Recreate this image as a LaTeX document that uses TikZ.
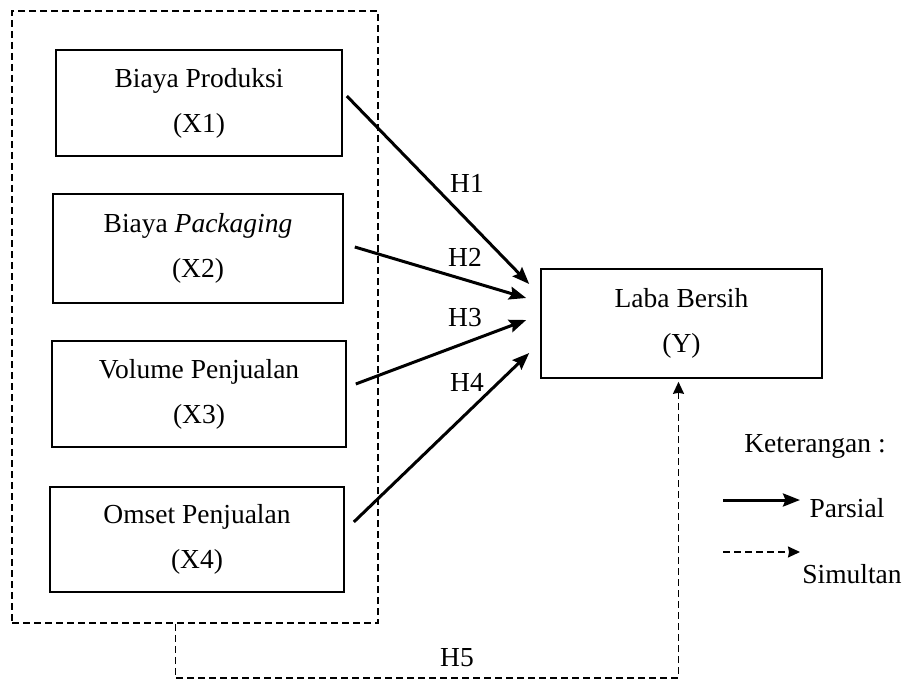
\documentclass[tikz,border=0pt]{standalone}
\usepackage{fontspec}
\setmainfont{Liberation Serif}
\usetikzlibrary{arrows.meta,calc}
\begin{document}
\begin{tikzpicture}[x=1pt,y=-1pt,
  txt/.style={font=\fontsize{27.5}{45}\selectfont},
  varbox/.style={draw, line width=1.6pt, align=center, inner sep=0pt, txt},
  grpbox/.style={draw, line width=1.5pt, dash pattern=on 7pt off 4pt, inner sep=0pt},
  partial/.style={line width=3pt, -{Stealth[length=17pt,width=13pt,inset=2.5pt]}},
  simul/.style={line width=1.5pt, dash pattern=on 7pt off 4pt, -{Stealth[length=12pt,width=11pt,inset=1pt]}},
  lab/.style={txt, inner sep=0pt}]
\useasboundingbox (0,0) rectangle (907,682);
\node[grpbox, minimum width=366pt, minimum height=612pt] (grp) at (195,317) {};
\node[varbox, minimum width=286pt, minimum height=106pt] (x1) at (199,103) {Biaya Produksi\\(X1)};
\node[varbox, minimum width=290pt, minimum height=109pt] (x2) at (198,248.5) {Biaya \textit{Packaging}\\(X2)};
\node[varbox, minimum width=294pt, minimum height=106pt] (x3) at (199,394) {Volume Penjualan\\(X3)};
\node[varbox, minimum width=294pt, minimum height=105pt] (x4) at (197,539.5) {Omset Penjualan\\(X4)};
\node[varbox, minimum width=281pt, minimum height=109pt] (y) at (681.5,323.5) {Laba Bersih\\(Y)};
\draw[partial] ($(x1.east)+(4,-7)$) -- ($(y.west)+(-11,-39.5)$);
\draw[partial] ($(x2.east)+(11,-1.5)$) -- ($(y.west)+(-14,-25.5)$);
\draw[partial] ($(x3.east)+(9,-10)$) -- ($(y.west)+(-14,-3.5)$);
\draw[partial] ($(x4.east)+(9,-17.5)$) -- ($(y.west)+(-11,29.5)$);
\node[lab] (h1) at (467,183) {H1};
\node[lab] (h2) at (465,257) {H2};
\node[lab] (h3) at (465,318) {H3};
\node[lab] (h4) at (467,382) {H4};
\draw[simul] ($(grp.south west)+(164,0)$) -- ++(0,54) -| ($(y.south)+(-3,3)$);
\node[lab] (h5) at (457,658) {H5};
\node[lab] (ket) at (815,446) {Keterangan :};
\coordinate (ps) at (723,500);
\coordinate (pe) at (800,500);
\draw[partial] (ps) -- (pe);
\node[lab] (par) at (847,508) {Parsial};
\coordinate (ss) at (723,552);
\coordinate (se) at (800,552);
\draw[simul] (ss) -- (se);
\node[lab] (sim) at (852,574) {Simultan};
\end{tikzpicture}
\end{document}
